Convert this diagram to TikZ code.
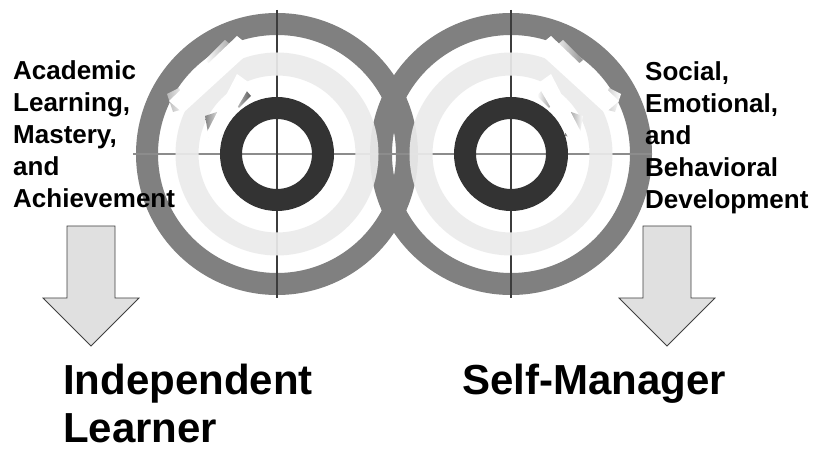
\documentclass[tikz,border=0pt]{standalone}
\usepackage{fontspec}
\setmainfont{Liberation Sans}
\definecolor{ringgray}{HTML}{808080}
\definecolor{ringlight}{HTML}{EBEBEB}
\definecolor{ringdark}{HTML}{333333}
\definecolor{arrowfill}{HTML}{E0E0E0}
\definecolor{arrowline}{HTML}{404040}
\definecolor{crossdark}{HTML}{3C3C3C}
\definecolor{crosslight}{HTML}{8C8C8C}
\newcommand\mystreaks{%
  % smears (gradients) beside the streaks
  \shade[left color=white, right color=ringgray!85] (-72,-94) -- (-52,-114) -- (-40,-104) -- (-60,-84) -- cycle;
  \shade[left color=ringgray!55, right color=white] (-110,-60) -- (-98,-66) -- (-90,-46) -- (-104,-42) -- cycle;
  \shade[left color=white, right color=ringdark!80] (-50,-60) -- (-38,-72) -- (-26,-58) -- (-38,-46) -- cycle;
  \shade[left color=ringdark!60, right color=white] (-72,-38) -- (-60,-42) -- (-54,-18) -- (-68,-16) -- cycle;
  % white streaks
  \fill[white] (-40,-118) -- (-24,-105) -- (-94,-41) -- (-108,-53) -- cycle;
  \fill[white] (-40,-80) -- (-26,-70) -- (-60,-12) -- (-72,-18) -- cycle;
}
\begin{document}
\begin{tikzpicture}[x=1pt,y=-1pt,
  outerring/.style={draw=ringgray, line width=22pt},
  lightring/.style={draw=ringlight, line width=23pt},
  darkring/.style={draw=ringdark, line width=22pt},
  crossv/.style={draw=crossdark, line width=2pt},
  crossh/.style={draw=crosslight, line width=2pt},
  blockarrow/.style={draw=arrowline, fill=arrowfill, line width=0.8pt, line join=miter},
  labeltext/.style={font=\fontsize{26}{32}\selectfont\bfseries, align=left, inner sep=0pt, anchor=north west},
  bigtext/.style={font=\fontsize{42}{48}\selectfont\bfseries, align=left, inner sep=0pt, anchor=north west}]
\useasboundingbox (0,0) rectangle (817,454);
\fill[white] (0,0) rectangle (817,454);

\coordinate (cl) at (277,154);
\coordinate (cr) at (511,154);

% outer rings
\draw[outerring] (cl) circle[radius=130pt];
\draw[outerring] (cr) circle[radius=130pt];

% crosshairs
\coordinate (clt) at (277,10);
\coordinate (clb) at (277,298);
\coordinate (cll) at (133,154);
\coordinate (clr) at (413,154);
\coordinate (crt) at (511,10);
\coordinate (crb) at (511,298);
\coordinate (crl) at (373,154);
\coordinate (crr) at (652,154);
\draw[crossh] (cll) -- (clr);
\draw[crossh] (crl) -- (crr);
\draw[crossv] (clt) -- (clb);
\draw[crossv] (crt) -- (crb);

% light rings
\draw[lightring, opacity=0.92] (cl) circle[radius=90pt];
\draw[lightring, opacity=0.92] (cr) circle[radius=90pt];

% dark rings
\draw[darkring] (cl) circle[radius=46pt];
\draw[darkring] (cr) circle[radius=46pt];

% streaks
\begin{scope}[shift={(cl)}]
\mystreaks
\end{scope}
\begin{scope}[shift={(cr)}, xscale=-1]
\mystreaks
\end{scope}

% texts
\node[labeltext] (acad) at (13,60) {Academic\\Learning,\\Mastery,\\and\\Achievement};
\node[labeltext] (social) at (645,61) {Social,\\Emotional,\\and\\Behavioral\\Development};

% block arrows
\draw[blockarrow] (67,226) -- (115,226) -- (115,298) -- (139,298) -- (91,346) -- (43,298) -- (67,298) -- cycle;
\draw[blockarrow] (643,226) -- (691,226) -- (691,298) -- (715,298) -- (667,346) -- (619,298) -- (643,298) -- cycle;

\node[bigtext] (indep) at (63,364) {Independent\\Learner};
\node[bigtext] (selfm) at (462,364) {Self-Manager};
\end{tikzpicture}
\end{document}
